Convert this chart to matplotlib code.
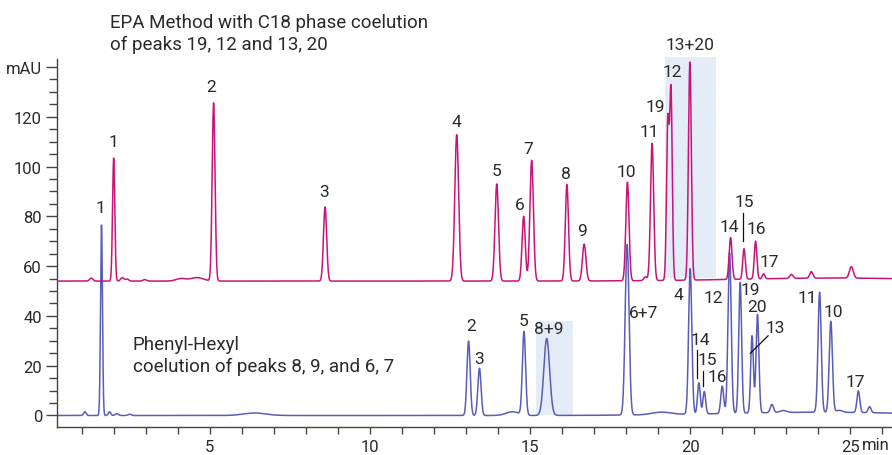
import numpy as np
import matplotlib
matplotlib.use("Agg")
import matplotlib.pyplot as plt
from matplotlib.ticker import MultipleLocator, FixedLocator

plt.rcParams['font.family'] = ['Liberation Sans Narrow', 'Roboto', 'DejaVu Sans']

# ---------------- data ----------------
# C18 trace (upper): retention time (min), height above baseline (mAU), width (sigma, min)
c18_times   = [2.00, 5.12, 8.60, 12.71, 13.96, 14.80, 15.05, 16.15, 16.69, 18.04, 18.81, 19.30, 19.40, 19.99, 21.26, 21.68, 22.04, 22.29,
               1.30, 2.27, 2.42, 2.97, 4.10, 4.60, 18.60, 23.16, 23.78, 25.03, 24.5]
c18_heights = [49.4, 71.5, 29.8, 58.8, 39.0, 26.0, 48.5, 38.8, 14.8, 39.6, 55.2, 63.0, 75.5, 87.7, 16.8, 12.2, 15.2, 2.0,
               1.2, 1.4, 0.8, 0.6, 1.0, 1.4, 1.5, 1.6, 2.6, 4.6, 1.2]
c18_widths  = [0.035, 0.045, 0.05, 0.06, 0.055, 0.05, 0.055, 0.05, 0.055, 0.05, 0.05, 0.04, 0.04, 0.045, 0.045, 0.04, 0.04, 0.04,
               0.05, 0.05, 0.05, 0.05, 0.15, 0.2, 0.05, 0.05, 0.05, 0.06, 3.0]
c18_baseline = 54.0

# Phenyl-Hexyl trace (lower)
ph_times   = [1.62, 13.08, 13.42, 14.81, 15.52, 18.03, 20.00, 20.27, 20.44, 21.00, 21.23, 21.56, 21.93, 22.10, 22.55, 24.04, 24.39, 25.25, 25.60,
              1.10, 1.87, 2.10, 2.50, 6.40, 14.45, 19.10, 22.90, 24.65, 24.0]
ph_heights = [76.5, 29.9, 19.0, 33.5, 30.9, 68.5, 58.4, 12.5, 9.0, 11.0, 64.5, 52.5, 31.0, 39.5, 3.3, 48.2, 36.5, 8.7, 2.4,
              1.5, 1.5, 0.7, 0.5, 1.0, 1.5, 1.0, 0.8, 0.8, 1.3]
ph_widths  = [0.03, 0.05, 0.05, 0.05, 0.09, 0.06, 0.05, 0.042, 0.042, 0.045, 0.05, 0.045, 0.042, 0.045, 0.05, 0.05, 0.05, 0.045, 0.045,
              0.04, 0.04, 0.05, 0.05, 0.35, 0.2, 0.3, 0.1, 0.1, 3.0]
ph_baseline = 0.0

# peak labels: text, time, mAU position
c18_labels   = ['1', '2', '3', '4', '5', '6', '7', '8', '9', '10', '11', '19', '12', '13+20', '14', '15', '16', '17']
c18_label_t  = [1.98, 5.04, 8.57, 12.69, 13.94, 14.69, 14.93, 16.12, 16.62, 18.00, 18.71, 18.90, 19.43, 20.00, 21.21, 21.68, 22.05, 22.46]
c18_label_y  = [110.2, 132.3, 89.8, 118.0, 98.3, 84.8, 107.4, 97.4, 74.2, 97.9, 114.0, 124.2, 138.1, 149.2, 75.8, 86.1, 75.2, 61.9]

ph_labels  = ['1', '2', '3', '5', '8+9', '6+7', '4', '12', '19', '20', '13', '14', '15', '16', '11', '10', '17']
ph_label_t = [1.58, 13.16, 13.41, 14.81, 15.59, 18.53, 19.64, 20.72, 21.89, 22.10, 22.65, 20.33, 20.54, 20.85, 23.65, 24.46, 25.16]
ph_label_y = [83.5, 36.3, 23.0, 38.1, 35.0, 41.4, 48.8, 47.5, 50.8, 43.7, 35.4, 30.7, 22.4, 15.6, 47.2, 41.8, 13.7]

# leader lines: (t0, y0, t1, y1)
leader_lines = [(21.64, 81.3, 21.64, 70.2),
                (22.43, 32.0, 21.88, 25.0),
                (20.20, 26.3, 20.20, 15.1),
                (20.40, 17.8, 20.40, 12.0)]

# highlighted coelution regions: (t0, t1, y0, y1)
c18_region = (19.2, 20.8, 55.2, 144.0)
ph_region = (15.17, 16.34, 0.0, 37.9)

x_ticks = [5, 10, 15, 20, 25]
y_ticks = [0, 20, 40, 60, 80, 100, 120, 140]
y_ticklabels = ['0', '20', '40', '60', '80', '100', '120', 'mAU']

# ---------------- styling ----------------
MAGENTA = '#C8147A'
BLUE = '#5A5DB6'
SHADE = '#E4ECF7'
TEXT = '#2a2a2a'
SPINE = '#444444'

W, H = 892, 456
fig = plt.figure(figsize=(W / 100, H / 100), dpi=100)
ax_left, ax_right, ax_top, ax_bottom = 57.3, 892, 60, 427.7
ax = fig.add_axes([ax_left / W, 1 - ax_bottom / H, (ax_right - ax_left) / W, (ax_bottom - ax_top) / H])

t = np.arange(0.0, 26.5, 0.004)

def trace(times, heights, widths, base):
    y = np.full_like(t, base)
    for tc, h, s in zip(times, heights, widths):
        y += h * np.exp(-0.5 * ((t - tc) / s) ** 2)
    return y

y_c18 = trace(c18_times, c18_heights, c18_widths, c18_baseline)
y_ph = trace(ph_times, ph_heights, ph_widths, ph_baseline)

ax.fill_between([c18_region[0], c18_region[1]], c18_region[2], c18_region[3], color=SHADE, lw=0, zorder=0, clip_on=False)
ax.fill_between([ph_region[0], ph_region[1]], ph_region[2], ph_region[3], color=SHADE, lw=0, zorder=0)

ax.plot(t, y_ph, color=BLUE, lw=1.1, zorder=2)
ax.plot(t, y_c18, color=MAGENTA, lw=1.1, zorder=3)

lab_fs = 12.5
for s, x, y in zip(c18_labels, c18_label_t, c18_label_y):
    ax.text(x, y, s, ha='center', va='center', fontsize=lab_fs, color=TEXT, clip_on=False)
for s, x, y in zip(ph_labels, ph_label_t, ph_label_y):
    ax.text(x, y, s, ha='center', va='center', fontsize=lab_fs, color=TEXT, clip_on=False)
for x0, y0, x1, y1 in leader_lines:
    ax.plot([x0, x1], [y0, y1], color='#111111', lw=0.9, zorder=4)

ax.set_xlim(0.24, 26.3)
ax.set_ylim(-4.5, 143.2)

ax.spines['top'].set_visible(False)
ax.spines['right'].set_visible(False)
for sp in ('left', 'bottom'):
    ax.spines[sp].set_color(SPINE)
    ax.spines[sp].set_linewidth(1.0)

ax.xaxis.set_major_locator(FixedLocator(x_ticks))
ax.xaxis.set_minor_locator(MultipleLocator(1))
ax.set_xticklabels([str(v) for v in x_ticks])
ax.yaxis.set_major_locator(FixedLocator(y_ticks))
ax.yaxis.set_minor_locator(MultipleLocator(5))
ax.set_yticklabels(y_ticklabels)

ax.tick_params(axis='x', which='both', length=5, width=1.0, color=SPINE, labelsize=12, labelcolor=TEXT, pad=4)
ax.tick_params(axis='y', which='major', length=8, width=1.0, color=SPINE, labelsize=12, labelcolor=TEXT, pad=3)
ax.tick_params(axis='y', which='minor', length=6, width=1.0, color=SPINE)

fig.text(876 / W, 1 - 446 / H, 'min', ha='center', va='center', fontsize=12, color=TEXT)

fig.text(110 / W, 1 - 34 / H, 'EPA Method with C18 phase coelution\nof peaks 19, 12 and 13, 20',
         ha='left', va='center', fontsize=13.5, color=TEXT, linespacing=1.32)
fig.text(133 / W, 1 - 356 / H, 'Phenyl-Hexyl\ncoelution of peaks 8, 9, and 6, 7',
         ha='left', va='center', fontsize=13.5, color=TEXT, linespacing=1.32)

fig.savefig('out.png', dpi=100)
